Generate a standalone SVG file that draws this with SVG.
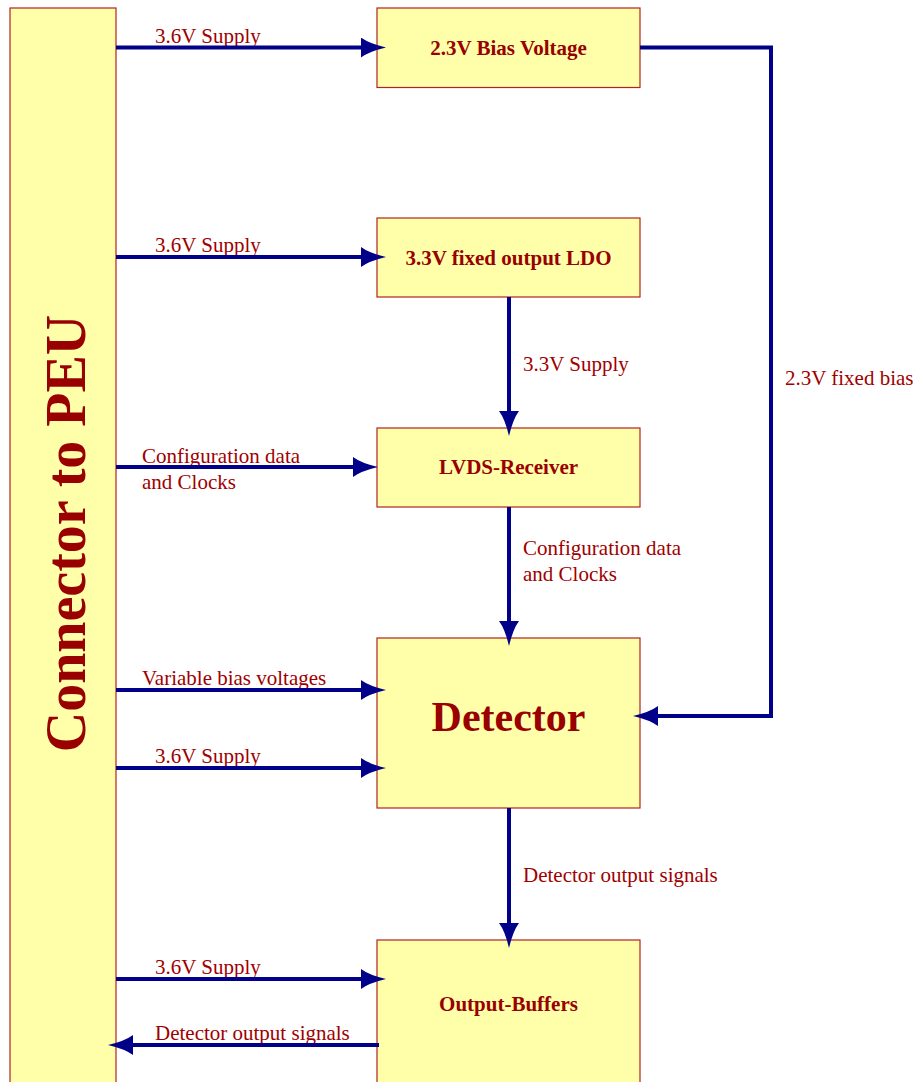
<svg xmlns="http://www.w3.org/2000/svg" width="919" height="1082" viewBox="0 0 919 1082">
<style>
.box{fill:#ffffaa;stroke:#b22222;stroke-width:1.2}
.t{font-family:"Liberation Serif","Times New Roman",serif;font-weight:bold;font-size:21px;fill:#990000;text-anchor:middle}
.lbl{font-family:"Liberation Serif","Times New Roman",serif;font-size:21px;fill:#a00000}
.c{fill:none;stroke:#000088;stroke-width:4;marker-end:url(#ah)}
</style>
<defs>
<marker id="ah" markerUnits="userSpaceOnUse" markerWidth="25" markerHeight="20" viewBox="0 0 25 20" refX="15" refY="10" orient="auto">
<path d="M0,0 Q8,6 25,10 Q8,14 0,20 Z" fill="#000088"/>
</marker>
</defs>
<rect width="919" height="1082" fill="#ffffff"/>
<g id="labels">
<text class="lbl" x="155" y="43">3.6V Supply</text>
<text class="lbl" x="155" y="252">3.6V Supply</text>
<text class="lbl" x="142" y="463">Configuration data</text>
<text class="lbl" x="142" y="489">and Clocks</text>
<text class="lbl" x="142" y="685">Variable bias voltages</text>
<text class="lbl" x="155" y="763">3.6V Supply</text>
<text class="lbl" x="155" y="974">3.6V Supply</text>
<text class="lbl" x="155" y="1040">Detector output signals</text>
<text class="lbl" x="523" y="371">3.3V Supply</text>
<text class="lbl" x="523" y="555">Configuration data</text>
<text class="lbl" x="523" y="581">and Clocks</text>
<text class="lbl" x="523" y="882">Detector output signals</text>
<text class="lbl" x="785" y="385">2.3V fixed bias</text>
</g>
<g id="connector-peu">
<rect class="box" x="10" y="8" width="106" height="1090"/>
<text class="t" style="font-size:56px" transform="translate(85,533.5) rotate(-90)">Connector to PEU</text>
</g>
<g id="bias-voltage">
<rect class="box" x="377" y="8" width="263" height="79.5"/>
<text class="t" x="508.5" y="55">2.3V Bias Voltage</text>
</g>
<g id="ldo">
<rect class="box" x="377" y="218" width="263" height="79"/>
<text class="t" x="508.5" y="265">3.3V fixed output LDO</text>
</g>
<g id="lvds">
<rect class="box" x="377" y="428" width="263" height="79"/>
<text class="t" x="508.5" y="474">LVDS-Receiver</text>
</g>
<g id="detector">
<rect class="box" x="377" y="638" width="263" height="170"/>
<text class="t" style="font-size:42px" x="508.5" y="731">Detector</text>
</g>
<g id="output-buffers">
<rect class="box" x="377" y="940" width="263" height="170"/>
<text class="t" x="508.5" y="1011">Output-Buffers</text>
</g>
<g id="connectors">
<path class="c" d="M116,47.5 H376"/>
<path class="c" d="M116,257 H376"/>
<path class="c" d="M116,467 H368"/>
<path class="c" d="M116,690 H376"/>
<path class="c" d="M116,768 H376"/>
<path class="c" d="M116,979 H376"/>
<path class="c" d="M379,1045 H118"/>
<path class="c" d="M509,297 V426"/>
<path class="c" d="M509,507 V636"/>
<path class="c" d="M509,808 V938"/>
<path class="c" d="M640,47.5 H771 V716 H643"/>
</g>
</svg>
